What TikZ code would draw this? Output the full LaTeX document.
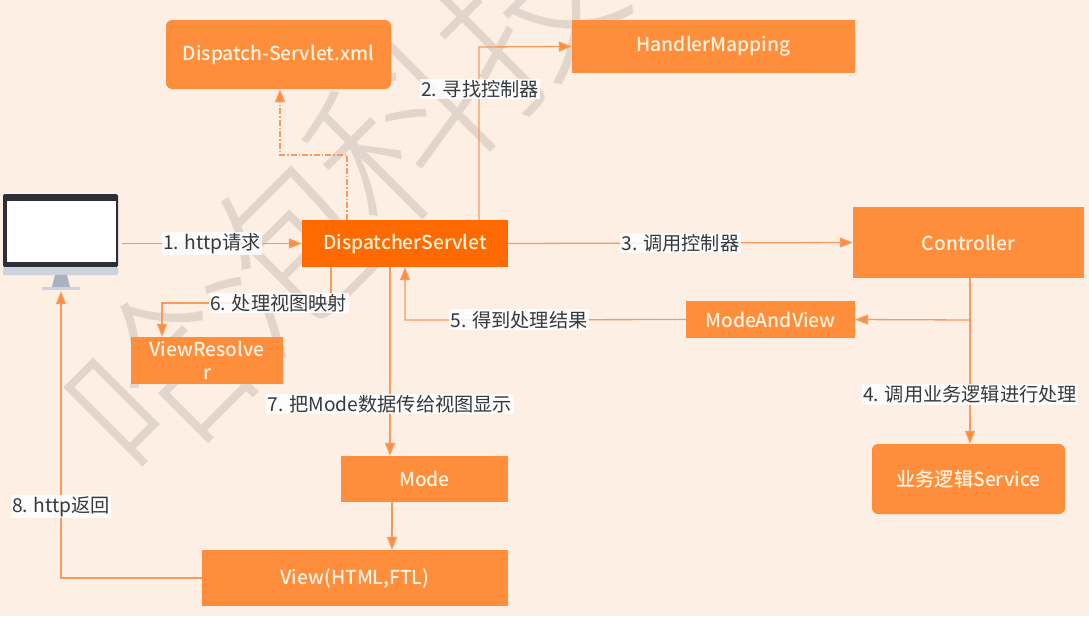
\documentclass[tikz,border=0pt]{standalone}
\usepackage{fontspec}
\setmainfont{Noto Sans CJK SC}[BoldFont={Noto Sans CJK SC Medium}]
\newfontfamily\wmfont{Noto Sans CJK SC Light}
\usetikzlibrary{arrows.meta}
\definecolor{bgc}{HTML}{FDEFE4}
\definecolor{boxc}{HTML}{FF8E3C}
\definecolor{darkbox}{HTML}{FF6A00}
\definecolor{linec}{HTML}{F79A5C}
\definecolor{boxtxt}{HTML}{FFF3E0}
\definecolor{wmark}{HTML}{E2D6CC}
\definecolor{lblc}{HTML}{333A40}
\definecolor{pcdark}{HTML}{2B3038}
\definecolor{pcchin}{HTML}{CBD3DD}
\definecolor{pcneck}{HTML}{A9B3BF}
\tikzset{
  x=1pt,y=-1pt,
  box/.style={fill=boxc,text=boxtxt,font=\fontsize{19.2}{21}\selectfont\bfseries,inner sep=0pt,align=center},
  lbl/.style={fill=white,fill opacity=.85,text opacity=1,text=lblc,font=\fontsize{19.2}{21}\selectfont,inner sep=1.5pt},
  conn/.style={draw=linec,line width=1.3pt,-{Triangle[length=13pt,width=10pt,fill=boxc]}},
  wm/.style={text=wmark,font=\wmfont\fontsize{175}{180}\selectfont,rotate=45,inner sep=0pt}
}
\begin{document}
\begin{tikzpicture}
\useasboundingbox (0,0) rectangle (1089,616);
\fill[bgc] (0,0) rectangle (1089,616);
% watermark
\node[wm] (w1) at (160,380) {哈};
\node[wm] (w2) at (280,255) {泡};
\node[wm] (w3) at (400,130) {科};
\node[wm] (w4) at (525,10) {技};
% boxes
\node[box,rounded corners=6pt,minimum width=225pt,minimum height=69pt] (dx) at (278.5,54.5) {Dispatch-Servlet.xml};
\node[box,minimum width=283pt,minimum height=53pt] (hm) at (713.5,46.5) {HandlerMapping};
\node[box,fill=darkbox,minimum width=206pt,minimum height=47pt] (ds) at (405,243.5) {DispatcherServlet};
\node[box,minimum width=231pt,minimum height=71pt] (ct) at (968.5,242.5) {Controller};
\node[box,minimum width=169pt,minimum height=37pt] (mv) at (770.5,319.5) {ModeAndView};
\node[box,minimum width=152pt,minimum height=47pt,align=center,font=\fontsize{19.2}{23}\selectfont\bfseries] (vr) at (207,360.5) {ViewResolve\\r};
\node[box,minimum width=167pt,minimum height=46pt] (md) at (424.5,479) {Mode};
\node[box,minimum width=306pt,minimum height=56pt] (vw) at (355,578) {View(HTML,FTL)};
\node[box,rounded corners=6pt,minimum width=193pt,minimum height=70pt] (sv) at (968.5,479) {业务逻辑Service};
% monitor
\node[minimum width=123pt,minimum height=96pt,inner sep=0pt] (pc) at (60.5,243) {};
\fill[rounded corners=1.5pt,fill=pcdark] (3,194) rectangle (118,267);
\fill[white] (7,201) rectangle (116,262);
\fill[rounded corners=1pt,fill=pcchin] (3,267) rectangle (118,275);
\fill[fill=pcneck] (55,275) -- (67,275) -- (70,287) -- (52,287) -- cycle;
\fill[fill=pcchin] (42,287) rectangle (80,290);
% helper coordinates for connector bends
\coordinate (x2) at (479,47);
\coordinate (x5) at (405,320);
\coordinate (x6a) at (331,303);
\coordinate (x6b) at (162,303);
\coordinate (x7) at (390,300);
\coordinate (x4) at (970,320);
\coordinate (x8) at (61,578);
\coordinate (xm) at (392,500);
\coordinate (xd1) at (347,155);
\coordinate (xd2) at (280,155);
% connectors
\draw[conn] (pc.east |- ds.west) -- node[lbl,pos=.5] {1. http请求} (ds.west);
\draw[conn] (ds.north -| x2) -- (x2) -- (hm.west);
\node[lbl] (l2) at (480,89) {2. 寻找控制器};
\draw[conn] (ct.south -| x4) -- node[lbl,pos=.7] {4. 调用业务逻辑进行处理} (sv.north -| x4);
\draw[conn] (ds.east) -- node[lbl,pos=.5] {3. 调用控制器} (ct.west);
\draw[conn] (x4) -- (mv.east);
\draw[conn] (mv.west) -- node[lbl,pos=.594] {5. 得到处理结果} (x5) -- (ds.south -| x5);
\draw[conn] (ds.south -| x6a) -- (x6a) -- node[lbl,pos=.31] {6. 处理视图映射} (x6b) -- (vr.north -| x6b);
\draw[conn] (ds.south -| x7) -- node[lbl,pos=.725] {7. 把Mode数据传给视图显示} (md.north -| x7);
\draw[conn] (md.south -| xm) -- (vw.north -| xm);
\draw[conn] (vw.west) -- (x8) -- node[lbl,pos=.25] {8. http返回} (pc.south -| x8);
\draw[conn,dash pattern=on 6pt off 2pt on 1.5pt off 2pt] (ds.north -| xd1) -- (xd1) -- (xd2) -- (dx.south -| xd2);
\end{tikzpicture}
\end{document}
